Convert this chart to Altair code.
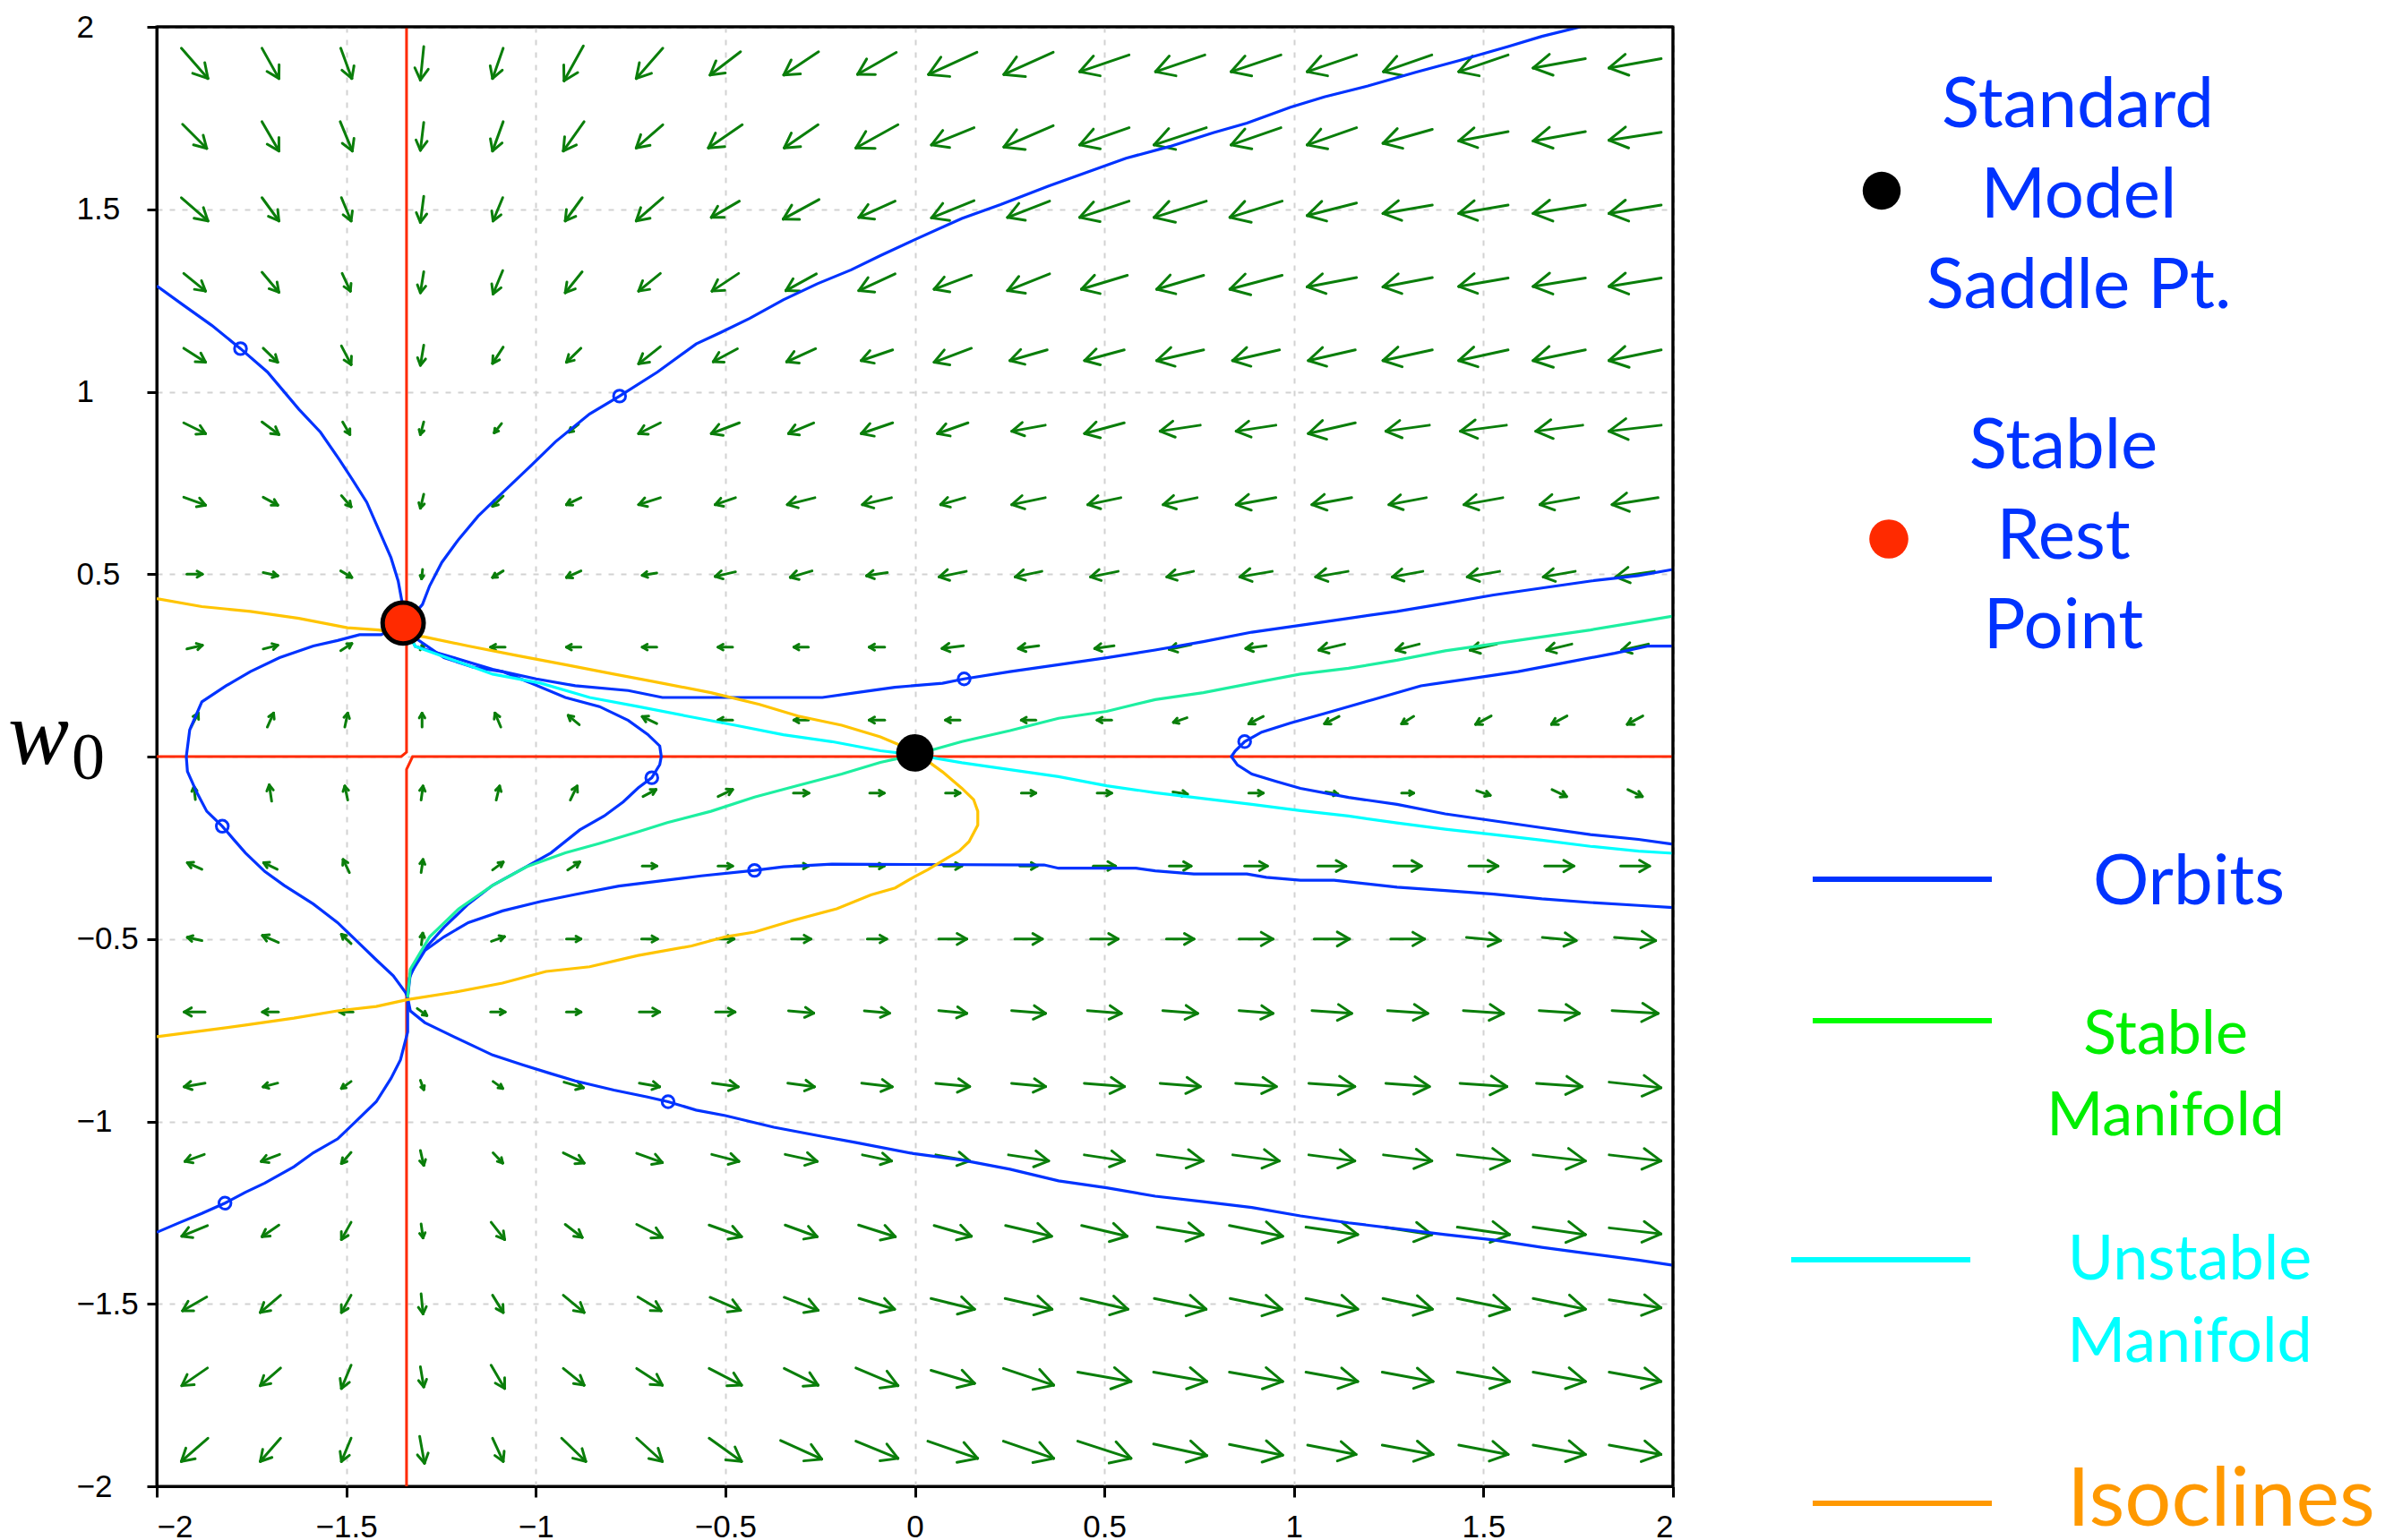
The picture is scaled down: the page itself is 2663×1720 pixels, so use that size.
import math
import altair as alt
import pandas as pd

# ------------------------------------------------------------------ data
TICKS = [-2, -1.5, -1, -0.5, 0, 0.5, 1, 1.5, 2]

GRID_X = [-1.9, -1.7, -1.5, -1.3, -1.1, -0.9, -0.7, -0.5, -0.3, -0.1,
          0.1, 0.3, 0.5, 0.7, 0.9, 1.1, 1.3, 1.5, 1.7, 1.9]
GRID_Y = [1.9, 1.7, 1.5, 1.3, 1.1, 0.9, 0.7, 0.5, 0.3, 0.1,
          -0.1, -0.3, -0.5, -0.7, -0.9, -1.1, -1.3, -1.5, -1.7, -1.9]

# arrow components, in 1/784 of an axis unit
ARROW_UNIT = 1.0 / 784.0
ARROW_U = [
    [55, 35, 23, -7, -22, -40, -55, -63, -72, -80, -100, -102, -102, -102, -103, -102, -100, -102, -108, -108],
    [50, 35, 25, -7, -22, -43, -55, -70, -70, -87, -88, -102, -102, -108, -103, -102, -102, -102, -108, -108],
    [55, 35, 20, -7, -20, -35, -55, -58, -74, -75, -88, -87, -102, -108, -108, -102, -102, -102, -108, -108],
    [45, 35, 17, -7, -20, -35, -45, -55, -63, -75, -77, -87, -95, -97, -108, -102, -102, -102, -108, -108],
    [45, 30, 20, -7, -22, -30, -45, -50, -60, -65, -77, -77, -82, -97, -97, -97, -102, -102, -108, -108],
    [45, 35, 15, -7, -15, -20, -45, -58, -52, -65, -63, -69, -82, -83, -82, -97, -90, -95, -97, -108],
    [45, 30, 20, -7, -22, -30, -45, -42, -57, -60, -50, -69, -68, -70, -82, -82, -77, -80, -80, -95],
    [32, 30, 23, -2, -22, -30, -30, -42, -45, -43, -56, -55, -57, -55, -67, -67, -63, -67, -66, -80],
    [32, 30, 23, 8, -30, -30, -30, -30, -30, -32, -44, -42, -40, -45, -42, -53, -48, -55, -52, -55],
    [15, 13, 6, 0, -12, -23, -30, -30, -30, -32, -30, -30, -30, -28, -30, -30, -25, -32, -32, -32],
    [-3, -5, -6, 4, 7, 14, 27, 30, 32, 30, 30, 30, 30, 30, 30, 25, 25, 28, 30, 30],
    [-30, -28, -13, 4, 22, 25, 30, 30, 30, 30, 37, 36, 46, 45, 47, 58, 57, 60, 60, 60],
    [-30, -33, -20, 3, 27, 30, 33, 36, 40, 40, 58, 57, 57, 57, 70, 73, 70, 70, 70, 85],
    [-43, -33, -28, 20, 30, 30, 42, 40, 52, 52, 58, 70, 70, 72, 70, 82, 83, 83, 83, 95],
    [-43, -30, -20, 7, 20, 40, 42, 53, 55, 63, 70, 70, 83, 83, 84, 95, 90, 97, 94, 107],
    [-40, -38, -20, 7, 20, 43, 53, 56, 66, 60, 70, 83, 83, 95, 96, 95, 100, 108, 108, 107],
    [-53, -35, -20, 4, 28, 35, 53, 67, 66, 76, 77, 95, 94, 95, 110, 107, 100, 108, 108, 107],
    [-50, -42, -20, 4, 22, 43, 48, 63, 70, 73, 90, 97, 97, 107, 107, 107, 102, 108, 108, 107],
    [-53, -42, -20, 7, 28, 43, 53, 67, 70, 87, 90, 104, 110, 110, 110, 107, 105, 108, 108, 107],
    [-55, -42, -20, 10, 22, 50, 53, 67, 85, 87, 103, 104, 110, 110, 110, 100, 105, 102, 108, 107],
]
ARROW_V = [
    [-65, -65, -65, -72, -65, -75, -65, -50, -50, -47, -48, -48, -36, -36, -36, -36, -36, -36, -20, -20],
    [-52, -63, -63, -60, -63, -63, -50, -50, -50, -50, -37, -46, -37, -37, -37, -37, -30, -20, -20, -17],
    [-50, -50, -50, -56, -50, -50, -50, -35, -42, -35, -37, -35, -35, -35, -35, -27, -18, -18, -18, -18],
    [-38, -43, -38, -45, -50, -45, -38, -38, -36, -36, -30, -36, -30, -30, -30, -20, -20, -18, -18, -18],
    [-30, -30, -40, -43, -35, -30, -37, -28, -28, -23, -30, -23, -23, -23, -23, -23, -23, -23, -23, -23],
    [-23, -27, -27, -27, -20, -17, -23, -23, -23, -23, -23, -13, -23, -13, -13, -23, -13, -13, -13, -13],
    [-17, -17, -24, -30, -22, -15, -15, -15, -15, -15, -15, -15, -15, -15, -15, -15, -15, -15, -15, -15],
    [0, -7, -14, -20, -14, -14, -5, -10, -14, -7, -12, -12, -12, -12, -12, -12, -12, -12, -12, -12],
    [8, 8, 15, 12, 0, 0, 0, 0, 0, 0, -6, -6, -6, -10, -6, -13, -13, -13, -13, -13],
    [30, 30, 30, 30, 30, 20, 15, 0, 0, 0, 0, 0, 0, -10, -16, -16, -16, -18, -18, -18],
    [28, 35, 30, 30, 30, 30, 15, 15, 0, 0, 0, 0, 0, -5, 0, -5, 0, -10, -15, -15],
    [14, 14, 28, 28, 17, 17, 0, 0, 0, 0, 0, 0, 0, 0, 0, 0, 0, 0, 0, 0],
    [7, 15, 20, 25, 10, 0, 0, 0, 0, 0, 0, 0, 0, 0, 0, 0, 0, -7, -7, -7],
    [0, 0, 0, -15, 0, 0, 0, 0, -5, -5, -6, -6, -6, -6, -6, -6, -6, -6, -6, -6],
    [-8, -8, -15, -20, -15, -12, -8, -8, -8, -8, -7, -7, -7, -7, -7, -7, -7, -7, -7, -12],
    [-15, -15, -24, -32, -22, -22, -20, -15, -15, -13, -13, -13, -13, -13, -13, -13, -13, -13, -13, -13],
    [-23, -25, -37, -30, -37, -28, -28, -25, -25, -25, -23, -23, -23, -16, -23, -16, -16, -16, -16, -13],
    [-30, -37, -37, -43, -37, -37, -30, -28, -28, -23, -23, -23, -23, -23, -23, -23, -23, -23, -23, -17],
    [-38, -38, -50, -43, -50, -36, -36, -36, -36, -38, -28, -36, -20, -20, -20, -20, -20, -20, -20, -20],
    [-50, -50, -50, -58, -50, -50, -50, -50, -40, -37, -37, -37, -37, -25, -23, -20, -20, -20, -20, -20],
]

# orbits (blue)
ORBIT_A_X = [-2.0, -1.932, -1.855, -1.779, -1.708, -1.625, -1.568, -1.517, -1.485, -1.446, -1.414, -1.382, -1.363, -1.354, -1.35]
ORBIT_A_Y = [1.29, 1.239, 1.182, 1.118, 1.054, 0.952, 0.889, 0.812, 0.761, 0.697, 0.621, 0.545, 0.481, 0.43, 0.366]

ORBIT_B_X = [1.756, 1.654, 1.565, 1.437, 1.323, 1.195, 1.08, 0.991, 0.876, 0.787, 0.672, 0.557, 0.455, 0.353, 0.226, 0.124,
             -0.004, -0.091, -0.168, -0.257, -0.347, -0.436, -0.513, -0.577, -0.679, -0.779, -0.858, -0.948, -1.011,
             -1.088, -1.152, -1.203, -1.248, -1.28, -1.299, -1.325, -1.35]
ORBIT_B_Y = [2.0, 1.974, 1.946, 1.908, 1.876, 1.838, 1.808, 1.78, 1.736, 1.71, 1.672, 1.64, 1.602, 1.564, 1.513, 1.475,
             1.415, 1.373, 1.334, 1.296, 1.252, 1.201, 1.162, 1.131, 1.054, 0.988, 0.939, 0.863, 0.799,
             0.723, 0.659, 0.596, 0.532, 0.468, 0.417, 0.385, 0.366]

ORBIT_C_X = [-1.35, -1.408, -1.465, -1.523, -1.587, -1.676, -1.753, -1.817, -1.881, -1.913, -1.922, -1.919, -1.894, -1.868,
             -1.827, -1.798, -1.766, -1.715, -1.664, -1.587, -1.523, -1.472, -1.421, -1.376, -1.344, -1.338]
ORBIT_C_Y = [0.366, 0.334, 0.334, 0.318, 0.303, 0.271, 0.233, 0.194, 0.15, 0.073, 0.0, -0.041, -0.099, -0.15,
             -0.191, -0.226, -0.264, -0.315, -0.353, -0.404, -0.455, -0.506, -0.557, -0.601, -0.646, -0.66]

ORBIT_D_X = [-1.35, -1.318, -1.242, -1.165, -1.088, -1.012, -0.922, -0.832, -0.756, -0.705, -0.673, -0.669, -0.673, -0.694,
             -0.73, -0.769, -0.82, -0.884, -0.96, -1.037, -1.114, -1.178, -1.242, -1.286, -1.318, -1.334, -1.338]
ORBIT_D_Y = [0.366, 0.325, 0.271, 0.245, 0.233, 0.201, 0.162, 0.137, 0.099, 0.061, 0.029, 0.0, -0.022, -0.058,
             -0.086, -0.124, -0.163, -0.201, -0.264, -0.309, -0.353, -0.404, -0.468, -0.519, -0.57, -0.608, -0.66]

ORBIT_E_X = [-1.35, -1.318, -1.216, -1.114, -0.999, -0.896, -0.756, -0.666, -0.474, -0.244, -0.155, -0.053, 0.073, 0.13,
             0.251, 0.379, 0.506, 0.634, 0.761, 0.889, 1.017, 1.144, 1.272, 1.399, 1.527, 1.654, 1.782, 1.909, 2.0]
ORBIT_E_Y = [0.366, 0.302, 0.271, 0.239, 0.213, 0.194, 0.181, 0.162, 0.162, 0.162, 0.175, 0.19, 0.201, 0.213,
             0.233, 0.252, 0.271, 0.292, 0.315, 0.341, 0.36, 0.379, 0.398, 0.42, 0.443, 0.462, 0.481, 0.496, 0.513]

ORBIT_F_X = [-1.338, -1.331, -1.293, -1.242, -1.178, -1.088, -0.986, -0.896, -0.781, -0.666, -0.564, -0.423, -0.347, -0.219,
             0.341, 0.379, 0.583, 0.634, 0.736, 0.876, 0.927, 1.017, 1.106, 1.272, 1.399, 1.527, 1.654, 1.782, 1.909, 2.0]
ORBIT_F_Y = [-0.66, -0.596, -0.532, -0.494, -0.455, -0.423, -0.397, -0.378, -0.355, -0.34, -0.327, -0.312, -0.302, -0.295,
             -0.297, -0.306, -0.306, -0.313, -0.322, -0.322, -0.331, -0.339, -0.339, -0.358, -0.367, -0.377, -0.39, -0.4, -0.408, -0.414]

ORBIT_G_X = [-1.338, -1.338, -1.357, -1.382, -1.421, -1.472, -1.523, -1.587, -1.638, -1.715, -1.766, -1.82, -1.881, -1.939, -2.0]
ORBIT_G_Y = [-0.66, -0.755, -0.831, -0.882, -0.946, -0.997, -1.048, -1.086, -1.124, -1.169, -1.194, -1.224, -1.252, -1.277, -1.304]

ORBIT_H_X = [-1.338, -1.331, -1.293, -1.242, -1.165, -1.114, -1.037, -0.96, -0.896, -0.794, -0.705, -0.651, -0.577, -0.5,
             -0.372, -0.244, -0.155, -0.004, 0.124, 0.251, 0.379, 0.506, 0.634, 0.761, 0.889, 1.017, 1.144, 1.272,
             1.399, 1.527, 1.654, 1.782, 1.909, 2.0]
ORBIT_H_Y = [-0.66, -0.697, -0.729, -0.755, -0.793, -0.818, -0.844, -0.869, -0.889, -0.914, -0.933, -0.946, -0.969, -0.984,
             -1.016, -1.041, -1.058, -1.088, -1.106, -1.131, -1.163, -1.182, -1.205, -1.22, -1.236, -1.259, -1.278, -1.294,
             -1.31, -1.325, -1.345, -1.363, -1.38, -1.394]

ORBIT_I_X = [2.0, 1.935, 1.846, 1.718, 1.591, 1.463, 1.335, 1.208, 1.08, 0.991, 0.915, 0.87, 0.845, 0.835, 0.851, 0.889,
             0.953, 1.017, 1.144, 1.272, 1.399, 1.527, 1.654, 1.782, 1.909, 2.0]
ORBIT_I_Y = [0.303, 0.303, 0.283, 0.258, 0.233, 0.213, 0.194, 0.156, 0.118, 0.092, 0.067, 0.041, 0.015, 0.0, -0.023, -0.048,
             -0.068, -0.087, -0.112, -0.131, -0.157, -0.176, -0.195, -0.214, -0.227, -0.24]

# stable manifold (green) and unstable manifold (cyan)
STABLE_X = [-1.338, -1.331, -1.28, -1.203, -1.114, -1.024, -0.922, -0.832, -0.73, -0.653, -0.538, -0.423, -0.308, -0.193,
            -0.091, 0.0, 0.124, 0.251, 0.379, 0.506, 0.634, 0.761, 0.889, 1.017, 1.144, 1.272, 1.399, 1.527, 1.654,
            1.782, 1.909, 2.0]
STABLE_Y = [-0.66, -0.583, -0.494, -0.417, -0.353, -0.302, -0.264, -0.238, -0.206, -0.181, -0.15, -0.111, -0.079, -0.048,
            -0.016, 0.005, 0.041, 0.071, 0.105, 0.124, 0.156, 0.175, 0.201, 0.226, 0.242, 0.264, 0.29, 0.309, 0.328,
            0.347, 0.369, 0.385]

UNSTABLE_X = [-1.35, -1.318, -1.216, -1.114, -0.986, -0.858, -0.73, -0.602, -0.474, -0.347, -0.219, -0.091, 0.0, 0.124,
              0.251, 0.379, 0.506, 0.634, 0.761, 0.889, 1.017, 1.144, 1.272, 1.399, 1.527, 1.654, 1.782, 1.909, 2.0]
UNSTABLE_Y = [0.366, 0.302, 0.264, 0.226, 0.201, 0.162, 0.137, 0.111, 0.086, 0.06, 0.041, 0.016, 0.005, -0.017,
              -0.036, -0.055, -0.08, -0.099, -0.115, -0.131, -0.148, -0.163, -0.182, -0.199, -0.214, -0.229, -0.246, -0.259, -0.265]

# isocline (yellow)
ISO_X = [-2.0, -1.881, -1.753, -1.625, -1.497, -1.414, -1.293, -1.178, -1.05, -0.922, -0.794, -0.666, -0.538, -0.41,
         -0.308, -0.193, -0.091, -0.004, 0.073, 0.124, 0.155, 0.166, 0.166, 0.143, 0.117, 0.085, 0.034, -0.004,
         -0.052, -0.116, -0.206, -0.321, -0.423, -0.5, -0.589, -0.73, -0.858, -0.973, -1.088, -1.216, -1.338,
         -1.421, -1.523, -1.638, -1.766, -1.881, -2.0]
ISO_Y = [0.433, 0.411, 0.398, 0.379, 0.353, 0.347, 0.328, 0.303, 0.277, 0.252, 0.226, 0.201, 0.175, 0.143,
         0.111, 0.086, 0.054, 0.016, -0.042, -0.087, -0.118, -0.15, -0.188, -0.233, -0.259, -0.278, -0.31, -0.331,
         -0.36, -0.379, -0.417, -0.449, -0.481, -0.494, -0.519, -0.545, -0.576, -0.589, -0.621, -0.646, -0.666,
         -0.685, -0.697, -0.717, -0.736, -0.752, -0.768]

# red lines
RED1_X = [-2.0, -1.355, -1.341, -1.341]
RED1_Y = [0.0, 0.0, 0.012, 2.0]
RED2_X = [2.0, -1.325, -1.341, -1.341]
RED2_Y = [0.0, 0.0, -0.035, -2.0]

# time markers on orbits
MARK_X = [-1.779, -0.779, 0.130, -0.694, -0.423, -1.827, -1.820, -0.651, 0.870]
MARK_Y = [1.118, 0.988, 0.213, -0.058, -0.312, -0.191, -1.224, -0.946, 0.041]

REST_X, REST_Y = [-1.35], [0.366]
SADDLE_X, SADDLE_Y = [0.0], [0.01]

# ------------------------------------------------------------------ layout
W, H = 1693, 1630
KX, KY = W / 4.0, H / 4.0
LEFT, TOP = 175, 30          # plot origin on the page

BLUE = "#0033FF"
GREEN_ARROW = "#0A7E0A"
MINT = "#1DEFA0"
CYAN = "#00FFFF"
YELLOW = "#FFC400"
RED = "#FF2A00"

XS = alt.Scale(domain=[-2, 2], nice=False, zero=False)
YS = alt.Scale(domain=[-2, 2], nice=False, zero=False)
XAX = alt.Axis(values=TICKS, format="~g", title=None, grid=True)
# the y=0 label is taken by the w0 axis title
YAX = alt.Axis(values=TICKS, format="~g", title=None, grid=True,
               labelExpr="datum.value == 0 ? '' : datum.label")


def ex(f="x"):
    return alt.X(f"{f}:Q", scale=XS, axis=XAX)


def ey(f="y"):
    return alt.Y(f"{f}:Q", scale=YS, axis=YAX)


# arrows: shaft + two barbs
segs = []
for i, yc in enumerate(GRID_Y):
    for j, xc in enumerate(GRID_X):
        u = ARROW_U[i][j] * ARROW_UNIT
        v = ARROW_V[i][j] * ARROW_UNIT
        x0, y0 = xc - u / 2, yc - v / 2
        x1, y1 = xc + u / 2, yc + v / 2
        segs.append({"x0": x0, "y0": y0, "x1": x1, "y1": y1})
        pu, pv = u * KX, v * KY
        L = math.hypot(pu, pv)
        if L == 0:
            continue
        bx, by = -pu / L, -pv / L
        h = 0.40 * L
        for s in (1, -1):
            a = math.radians(30) * s
            rx = bx * math.cos(a) - by * math.sin(a)
            ry = bx * math.sin(a) + by * math.cos(a)
            segs.append({"x0": x1, "y0": y1, "x1": x1 + rx * h / KX, "y1": y1 + ry * h / KY})
arrow_df = pd.DataFrame(segs)

arrows = alt.Chart(arrow_df).mark_rule(color=GREEN_ARROW, strokeWidth=3, strokeCap="round").encode(
    x=ex("x0"), y=ey("y0"), x2="x1:Q", y2="y1:Q")


def curves(pairs):
    rows = []
    for k, (xs, ys) in enumerate(pairs):
        for n, (a, b) in enumerate(zip(xs, ys)):
            rows.append({"x": a, "y": b, "c": k, "i": n})
    return pd.DataFrame(rows)


def line_layer(pairs, color, width):
    return alt.Chart(curves(pairs)).mark_line(color=color, strokeWidth=width, clip=True).encode(
        x=ex(), y=ey(), detail="c:N", order="i:Q")


red_lines = line_layer([(RED1_X, RED1_Y), (RED2_X, RED2_Y)], RED, 3)
orbits = line_layer([(ORBIT_A_X, ORBIT_A_Y), (ORBIT_B_X, ORBIT_B_Y), (ORBIT_C_X, ORBIT_C_Y),
                     (ORBIT_D_X, ORBIT_D_Y), (ORBIT_E_X, ORBIT_E_Y), (ORBIT_F_X, ORBIT_F_Y),
                     (ORBIT_G_X, ORBIT_G_Y), (ORBIT_H_X, ORBIT_H_Y), (ORBIT_I_X, ORBIT_I_Y)], BLUE, 3.2)
stable = line_layer([(STABLE_X, STABLE_Y)], MINT, 3.2)
unstable = line_layer([(UNSTABLE_X, UNSTABLE_Y)], CYAN, 3.2)
iso = line_layer([(ISO_X, ISO_Y)], YELLOW, 3.2)

markers = alt.Chart(pd.DataFrame({"x": MARK_X, "y": MARK_Y})).mark_point(
    shape="circle", filled=False, size=180, stroke=BLUE, strokeWidth=3, opacity=1).encode(x=ex(), y=ey())

rest = alt.Chart(pd.DataFrame({"x": REST_X, "y": REST_Y})).mark_circle(
    size=2100, color=RED, stroke="black", strokeWidth=5, opacity=1).encode(x=ex(), y=ey())
saddle = alt.Chart(pd.DataFrame({"x": SADDLE_X, "y": SADDLE_Y})).mark_circle(
    size=1750, color="black", opacity=1).encode(x=ex(), y=ey())

ONE = pd.DataFrame({"k": [0]})

# frame on top/right (drawn above the grid)
frame_top = alt.Chart(ONE).mark_rule(color="black", strokeWidth=3).encode(
    x=alt.value(0), x2=alt.value(W), y=alt.value(0))
frame_right = alt.Chart(ONE).mark_rule(color="black", strokeWidth=3).encode(
    x=alt.value(W), y=alt.value(0), y2=alt.value(H))


def txt(s, px, py, size, color, font="Lato", style="normal", align="center"):
    return alt.Chart(ONE).mark_text(text=s, font=font, fontSize=size, fontStyle=style, color=color,
                                    align=align, baseline="alphabetic").encode(
        x=alt.value(px - LEFT), y=alt.value(py - TOP))


def dot(px, py, size, color):
    return alt.Chart(ONE).mark_circle(size=size, color=color, opacity=1).encode(
        x=alt.value(px - LEFT), y=alt.value(py - TOP))


def seg(px0, px1, py, color):
    return alt.Chart(ONE).mark_rule(color=color, strokeWidth=6).encode(
        x=alt.value(px0 - LEFT), x2=alt.value(px1 - LEFT), y=alt.value(py - TOP))


annot = [
    txt("w", 9, 853, 102, "black", font="Liberation Serif", style="italic", align="left"),
    txt("0", 80, 870, 74, "black", font="Liberation Serif", align="left"),
    dot(2101, 213, 1800, "black"),
    txt("Standard", 2320, 142, 78, BLUE),
    txt("Model", 2321, 243, 78, BLUE),
    txt("Saddle Pt.", 2321, 344, 78, BLUE),
    dot(2109, 602, 1900, RED),
    txt("Stable", 2304, 523, 78, BLUE),
    txt("Rest", 2304, 624, 78, BLUE),
    txt("Point", 2304, 724, 78, BLUE),
    seg(2024, 2224, 982, BLUE),
    txt("Orbits", 2444, 1010, 78, BLUE),
    seg(2024, 2224, 1140, "#00FF00"),
    txt("Stable", 2418, 1177, 68, "#00EE00"),
    txt("Manifold", 2418, 1268, 68, "#00EE00"),
    seg(2000, 2200, 1407, CYAN),
    txt("Unstable", 2445, 1429, 70, CYAN),
    txt("Manifold", 2445, 1521, 70, CYAN),
    seg(2024, 2224, 1679, "#FF9900"),
    txt("Isoclines", 2480, 1704, 92, "#FF9900"),
]

chart = alt.layer(arrows, red_lines, orbits, stable, unstable, iso, markers, rest, saddle,
                  frame_top, frame_right, *annot).properties(
    width=W, height=H,
    autosize=alt.AutoSizeParams(type="none"),
    padding={"left": LEFT - 8, "top": TOP - 8, "right": 785, "bottom": 66},
).configure_view(
    stroke="black", strokeWidth=3
).configure_axis(
    labelFont="Liberation Sans", labelFontSize=35, labelColor="black",
    domainColor="black", domainWidth=3, tickColor="black", tickWidth=3,
    gridColor="#D2D2D2", gridDash=[6, 8], gridWidth=2,
).configure_axisX(
    tickSize=12, labelPadding=16
).configure_axisY(
    tickSize=11, labelPadding=79, labelAlign="left"
)

chart.save("out.html", embed_options={"renderer": "svg", "actions": False})
